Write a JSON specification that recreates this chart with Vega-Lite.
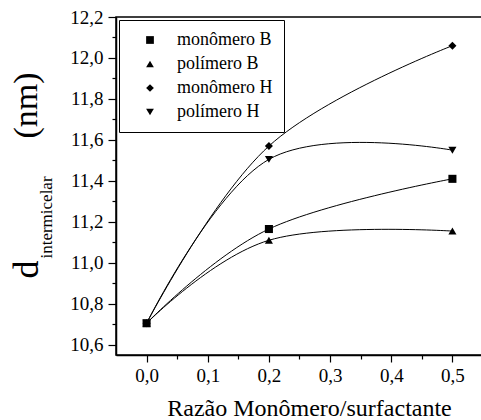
{
  "$schema": "https://vega.github.io/schema/vega-lite/v6.json",
  "autosize": {"type": "none"},
  "padding": {"left": 116, "top": 17, "right": 0, "bottom": 65},
  "width": 367,
  "height": 338,
  "background": "white",
  "data": {
    "values": [
      {"serie": "monômero B", "x": 0.0, "y": 10.705},
      {"serie": "monômero B", "x": 0.2, "y": 11.165},
      {"serie": "monômero B", "x": 0.5, "y": 11.41},
      {"serie": "polímero B", "x": 0.0, "y": 10.705},
      {"serie": "polímero B", "x": 0.2, "y": 11.11},
      {"serie": "polímero B", "x": 0.5, "y": 11.155},
      {"serie": "monômero H", "x": 0.0, "y": 10.705},
      {"serie": "monômero H", "x": 0.2, "y": 11.57},
      {"serie": "monômero H", "x": 0.5, "y": 12.06},
      {"serie": "polímero H", "x": 0.0, "y": 10.705},
      {"serie": "polímero H", "x": 0.2, "y": 11.505},
      {"serie": "polímero H", "x": 0.5, "y": 11.55}
    ]
  },
  "layer": [
    {
      "mark": {"type": "line", "interpolate": "cardinal", "tension": -0.1, "color": "black", "strokeWidth": 1},
      "encoding": {
        "x": {
          "field": "x", "type": "quantitative",
          "scale": {"domain": [-0.05, 0.55], "nice": false, "zero": false},
          "axis": {
            "orient": "bottom",
            "values": [0, 0.1, 0.2, 0.3, 0.4, 0.5],
            "labelExpr": "replace(format(datum.value, '.1f'), '.', ',')",
            "labelFontSize": 19,
            "tickSize": 7,
            "labelPadding": 4,
            "title": "Razão Monômero/surfactante",
            "titleFontSize": 24,
            "titleX": 193,
            "titleY": 60,
            "titleAlign": "center",
            "titleBaseline": "alphabetic"
          }
        },
        "y": {
          "field": "y", "type": "quantitative",
          "scale": {"domain": [10.55, 12.2], "nice": false, "zero": false},
          "axis": {
            "orient": "left",
            "values": [10.6, 10.8, 11.0, 11.2, 11.4, 11.6, 11.8, 12.0, 12.2],
            "labelExpr": "replace(format(datum.value, '.1f'), '.', ',')",
            "labelFontSize": 19,
            "tickSize": 8,
            "labelPadding": 5,
            "title": "d",
            "titleFontSize": 36,
            "titleAngle": 270,
            "titleX": -79,
            "titleY": 252,
            "titleAlign": "center",
            "titleBaseline": "alphabetic"
          }
        },
        "detail": {"field": "serie", "type": "nominal"}
      }
    },
    {
      "mark": {"type": "point", "filled": true, "color": "black", "size": 65, "opacity": 1},
      "encoding": {
        "x": {
          "field": "x", "type": "quantitative",
          "axis": {
            "orient": "bottom",
            "values": [0.05, 0.15, 0.25, 0.35, 0.45],
            "labels": false,
            "domain": false,
            "tickSize": 4,
            "title": null
          }
        },
        "y": {
          "field": "y", "type": "quantitative",
          "axis": {
            "orient": "left",
            "values": [10.7, 10.9, 11.1, 11.3, 11.5, 11.7, 11.9, 12.1],
            "labels": false,
            "domain": false,
            "tickSize": 4,
            "title": "intermicelar",
            "titleFontSize": 17,
            "titleAngle": 270,
            "titleX": -65,
            "titleY": 200,
            "titleAlign": "center",
            "titleBaseline": "alphabetic"
          }
        },
        "shape": {
          "field": "serie", "type": "nominal",
          "scale": {
            "domain": ["monômero B", "polímero B", "monômero H", "polímero H"],
            "range": ["square", "triangle-up", "diamond", "triangle-down"]
          },
          "legend": {
            "orient": "none",
            "legendX": 3,
            "legendY": 3,
            "title": null,
            "strokeColor": "black",
            "fillColor": "white",
            "padding": 11,
            "rowPadding": 6,
            "symbolSize": 60,
            "symbolOffset": 11,
            "labelOffset": 18,
            "labelFontSize": 18,
            "labelColor": "black",
            "symbolFillColor": "black",
            "symbolStrokeColor": "black"
          }
        }
      }
    },
    {
      "mark": {"type": "point", "opacity": 0},
      "encoding": {
        "x": {"field": "x", "type": "quantitative", "axis": null},
        "y": {
          "field": "y", "type": "quantitative",
          "axis": {
            "orient": "left",
            "labels": false,
            "ticks": false,
            "domain": false,
            "grid": false,
            "title": "(nm)",
            "titleFontSize": 34,
            "titleAngle": 270,
            "titleX": -80,
            "titleY": 88,
            "titleAlign": "center",
            "titleBaseline": "alphabetic"
          }
        }
      }
    }
  ],
  "resolve": {"axis": {"x": "independent", "y": "independent"}},
  "config": {
    "font": "Liberation Serif, Times New Roman, Times, serif",
    "view": {"stroke": "black", "strokeWidth": 1.5},
    "axis": {
      "grid": false,
      "domainColor": "black",
      "domainWidth": 1.5,
      "tickColor": "black",
      "tickWidth": 1.2,
      "labelColor": "black",
      "labelFont": "Liberation Serif, Times New Roman, Times, serif",
      "titleColor": "black",
      "titleFont": "Liberation Serif, Times New Roman, Times, serif",
      "titleFontWeight": "normal"
    },
    "legend": {"labelFont": "Liberation Serif, Times New Roman, Times, serif"}
  }
}
